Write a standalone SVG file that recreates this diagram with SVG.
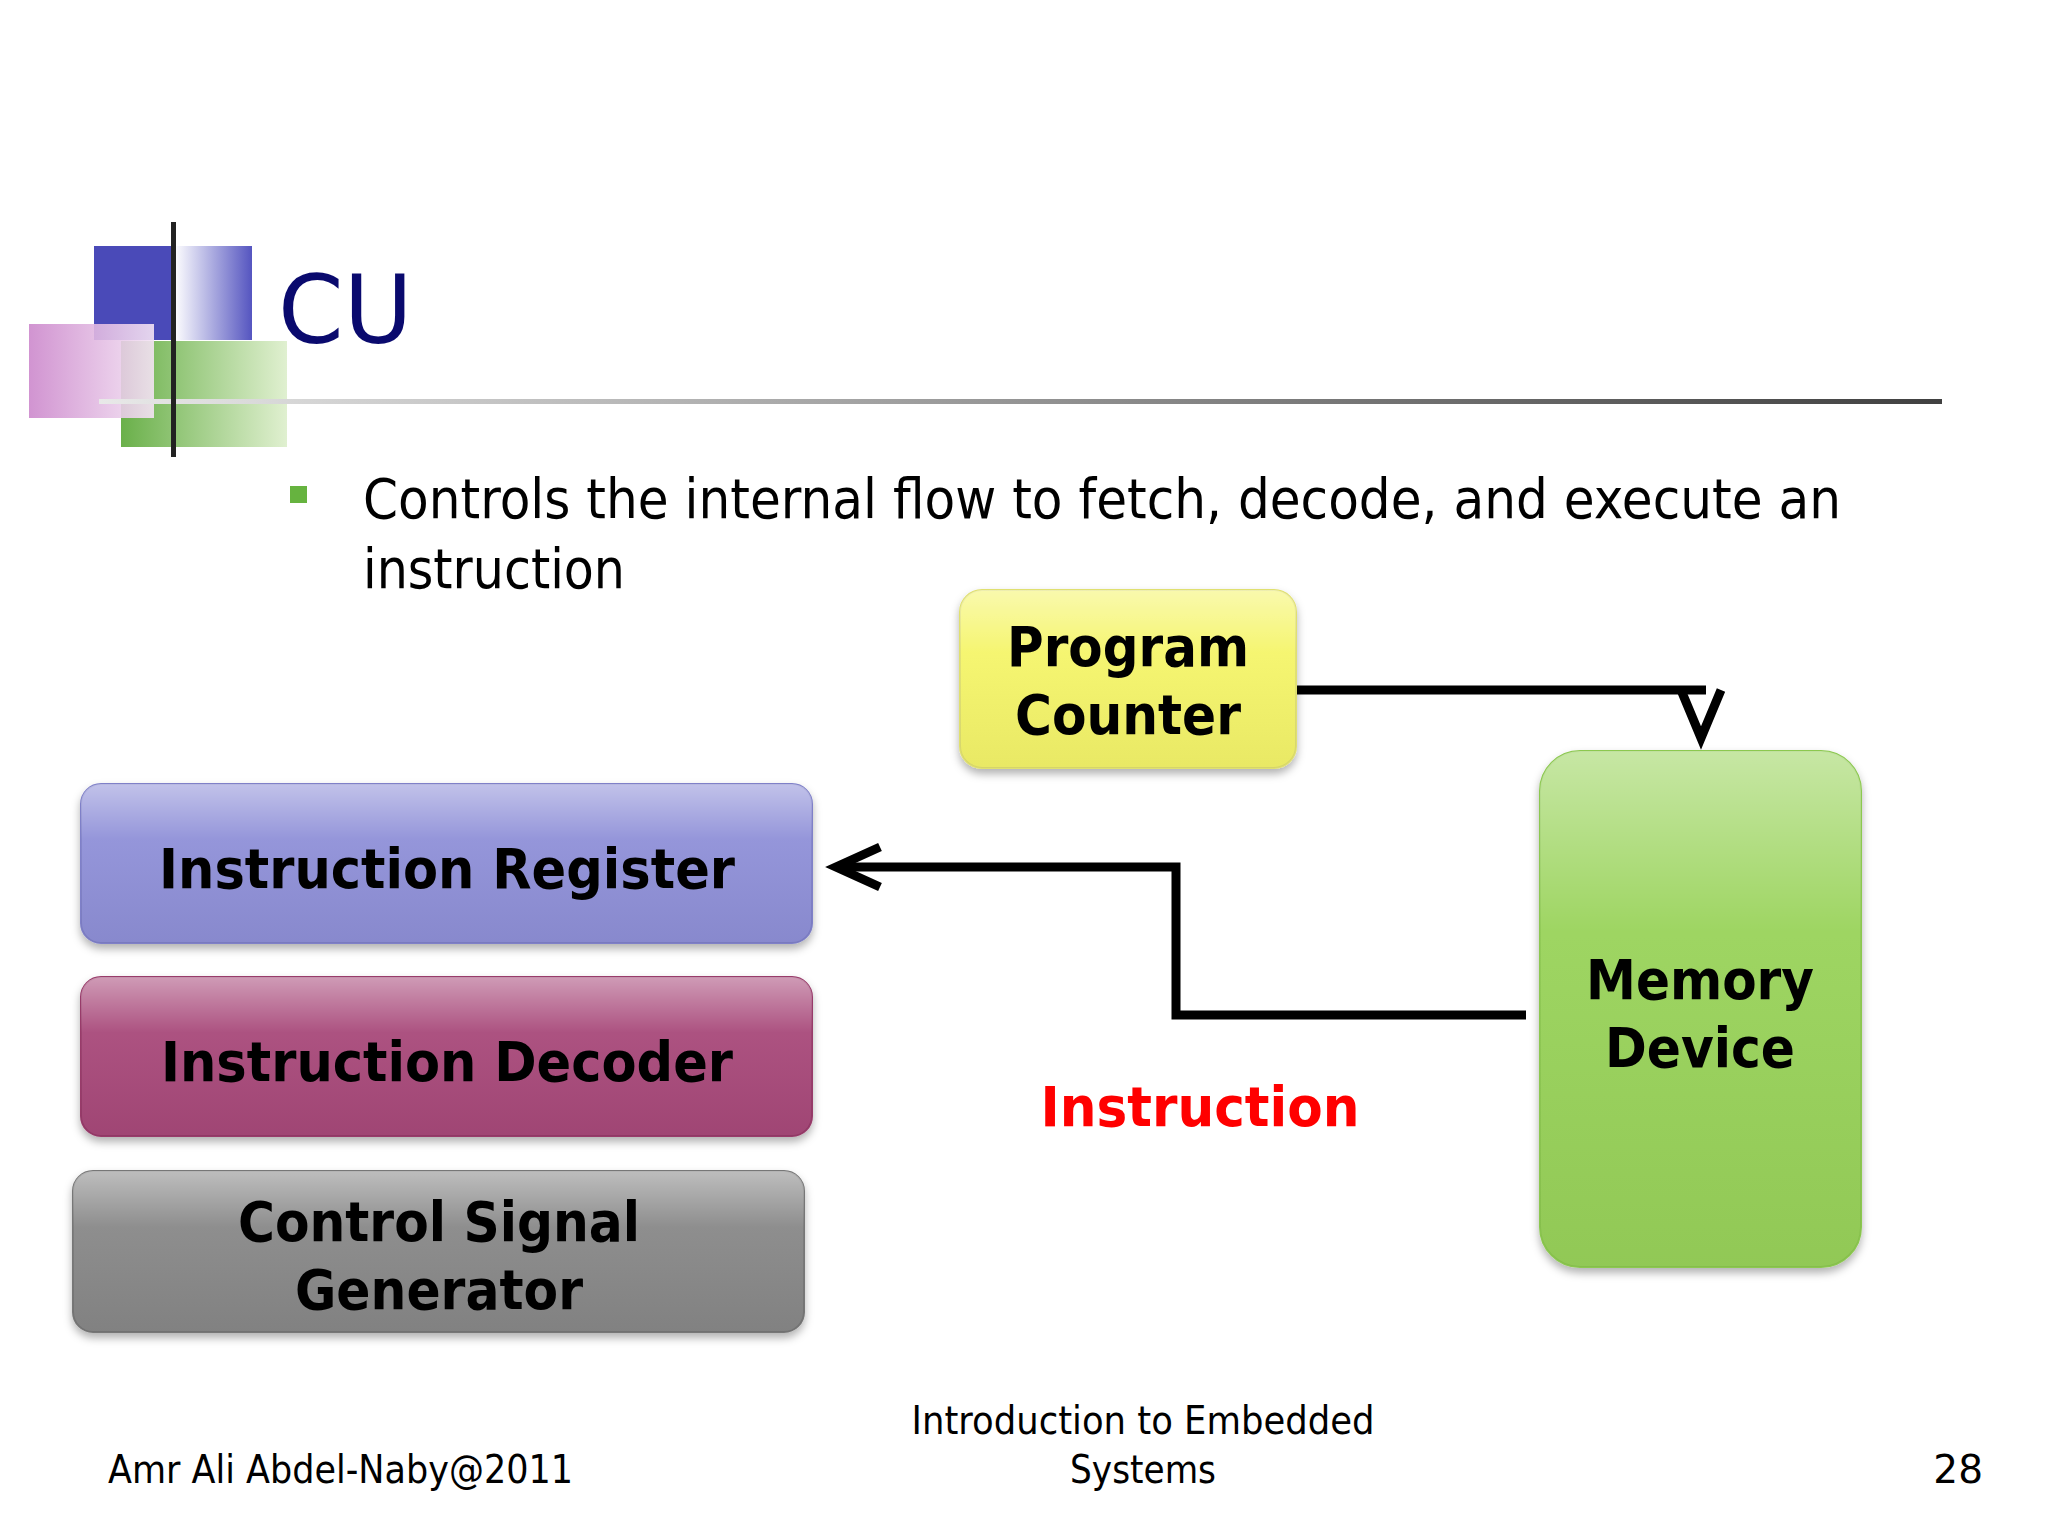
<svg xmlns="http://www.w3.org/2000/svg" width="2048" height="1536" viewBox="0 0 2048 1536">
<defs>
<linearGradient id="hl" x1="0" y1="0" x2="1" y2="0"><stop offset="0" stop-color="#e8e8e8"/><stop offset="1" stop-color="#404040"/></linearGradient>
<linearGradient id="bl" x1="0" y1="0" x2="1" y2="0"><stop offset="0" stop-color="#ffffff"/><stop offset="1" stop-color="#5555c0"/></linearGradient>
<linearGradient id="pk" x1="0" y1="0" x2="1" y2="0"><stop offset="0" stop-color="#cc88cc"/><stop offset="1" stop-color="#f4e4f4"/></linearGradient>
<linearGradient id="gr" x1="0" y1="0" x2="1" y2="0"><stop offset="0" stop-color="#6ab04a"/><stop offset="1" stop-color="#e0f0d0"/></linearGradient>
<linearGradient id="gloss" x1="0" y1="0" x2="0" y2="1"><stop offset="0" stop-color="#fff" stop-opacity="0.45"/><stop offset="0.35" stop-color="#fff" stop-opacity="0.05"/><stop offset="1" stop-color="#000" stop-opacity="0.05"/></linearGradient>
<filter id="sh" x="-10%" y="-10%" width="120%" height="130%"><feDropShadow dx="0" dy="5" stdDeviation="4" flood-opacity="0.3"/></filter>
</defs>
<style>
.b{font-family:"DejaVu Sans",Verdana,sans-serif;font-weight:bold;font-size:56px;text-anchor:middle;fill:#000}
.t{font-family:"DejaVu Sans",Tahoma,sans-serif;fill:#000}
.c{fill:none;stroke:#000;stroke-width:9}
</style>
<rect width="2048" height="1536" fill="#fff"/>
<g id="logo">
<rect x="94" y="246" width="80" height="94" fill="#4a4ab8"/>
<rect x="174" y="246" width="78" height="94" fill="url(#bl)"/>
<rect x="121" y="341" width="166" height="106" fill="url(#gr)"/>
<rect x="29" y="324" width="125" height="94" fill="url(#pk)" opacity="0.9"/>
<rect x="99" y="399" width="1843" height="5" fill="url(#hl)"/>
<rect x="171" y="222" width="5" height="235" fill="#222"/>
</g>
<text x="278" y="343" font-family="DejaVu Sans,Tahoma,sans-serif" font-size="94" fill="#0a0a6e">CU</text>
<rect x="290" y="486" width="17" height="17" fill="#66b33f"/>
<text class="t" x="363" y="518" font-size="56" textLength="1478" lengthAdjust="spacingAndGlyphs">Controls the internal flow to fetch, decode, and execute an</text>
<text class="t" x="363" y="588" font-size="56" textLength="262" lengthAdjust="spacingAndGlyphs">instruction</text>
<g id="connectors">
<polyline class="c" points="1296,690 1706,690"/>
<polyline class="c" points="1681,690 1701,738 1721,690" stroke-linejoin="miter"/>
<polyline class="c" points="1526,1015 1176,1015 1176,867 838,867"/>
<polyline class="c" points="880,847 836,867 880,887"/>
</g>
<g id="pc"><rect x="960" y="590" width="336" height="178" rx="22" fill="#f5f56a" stroke="#e0e070" stroke-width="2" filter="url(#sh)"/><rect x="960" y="590" width="336" height="178" rx="22" fill="url(#gloss)"/>
<text class="b" x="1128" y="666" textLength="242" lengthAdjust="spacingAndGlyphs">Program</text><text class="b" x="1128" y="734" textLength="226" lengthAdjust="spacingAndGlyphs">Counter</text></g>
<g id="mem"><rect x="1540" y="751" width="321" height="516" rx="40" fill="#99d35a" stroke="#8cc850" stroke-width="2" filter="url(#sh)"/><rect x="1540" y="751" width="321" height="516" rx="40" fill="url(#gloss)"/>
<text class="b" x="1700" y="999" textLength="228" lengthAdjust="spacingAndGlyphs">Memory</text><text class="b" x="1700" y="1067" textLength="190" lengthAdjust="spacingAndGlyphs">Device</text></g>
<g id="ir"><rect x="81" y="784" width="731" height="159" rx="20" fill="#8f90d8" stroke="#7f80c8" stroke-width="2" filter="url(#sh)"/><rect x="81" y="784" width="731" height="159" rx="20" fill="url(#gloss)"/>
<text class="b" x="447" y="888" textLength="576" lengthAdjust="spacingAndGlyphs">Instruction Register</text></g>
<g id="id"><rect x="81" y="977" width="731" height="159" rx="20" fill="#a84a7a" stroke="#983a6a" stroke-width="2" filter="url(#sh)"/><rect x="81" y="977" width="731" height="159" rx="20" fill="url(#gloss)"/>
<text class="b" x="447" y="1081" textLength="572" lengthAdjust="spacingAndGlyphs">Instruction Decoder</text></g>
<g id="csg"><rect x="73" y="1171" width="731" height="161" rx="20" fill="#888888" stroke="#777" stroke-width="2" filter="url(#sh)"/><rect x="73" y="1171" width="731" height="161" rx="20" fill="url(#gloss)"/>
<text class="b" x="439" y="1241" textLength="402" lengthAdjust="spacingAndGlyphs">Control Signal</text><text class="b" x="439" y="1309" textLength="288" lengthAdjust="spacingAndGlyphs">Generator</text></g>
<text class="b" x="1200" y="1126" style="fill:#ff0000" textLength="319" lengthAdjust="spacingAndGlyphs">Instruction</text>
<text class="t" x="108" y="1483" font-size="39" textLength="465" lengthAdjust="spacingAndGlyphs">Amr Ali Abdel-Naby@2011</text>
<text class="t" x="1143" y="1434" font-size="39" text-anchor="middle" textLength="463" lengthAdjust="spacingAndGlyphs">Introduction to Embedded</text>
<text class="t" x="1143" y="1483" font-size="39" text-anchor="middle" textLength="146" lengthAdjust="spacingAndGlyphs">Systems</text>
<text class="t" x="1983" y="1483" font-size="39" text-anchor="end">28</text>
</svg>
